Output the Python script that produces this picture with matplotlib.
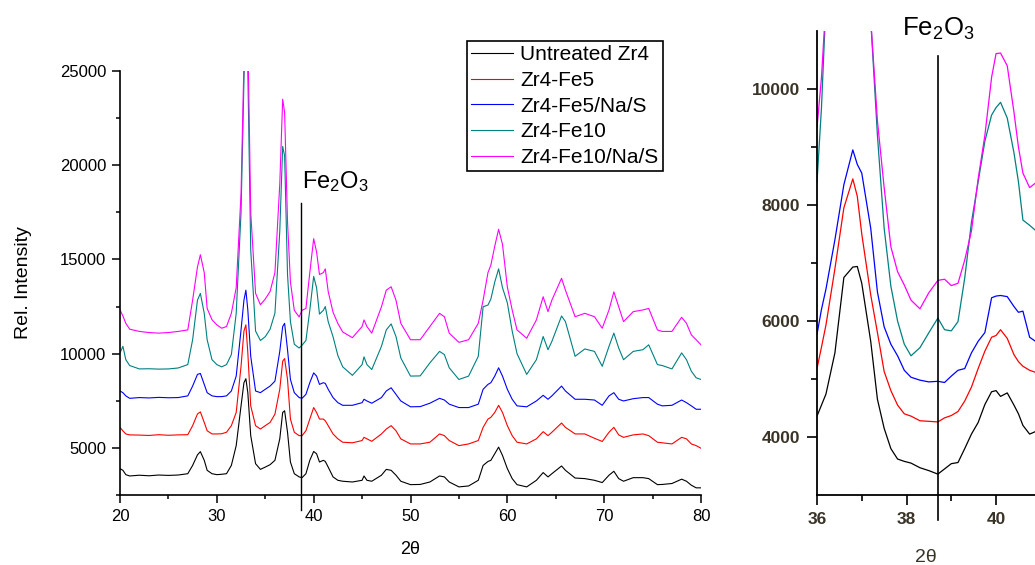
import numpy as np
import matplotlib
matplotlib.use('Agg')
import matplotlib.pyplot as plt
from matplotlib.ticker import MultipleLocator, FixedLocator

plt.rcParams['font.family'] = ['Liberation Sans', 'DejaVu Sans']
plt.rcParams['mathtext.default'] = 'regular'

# full scan, 2theta positions (deg)
two_theta = [20, 20.3, 20.6, 21, 22, 23, 24, 25, 26, 27,
             27.5, 28, 28.3, 28.7, 29, 29.5, 30, 30.5, 31, 31.5,
             32, 32.5, 32.8, 33.0, 33.2, 33.5, 34, 34.5, 35, 35.5,
             36, 36.5, 36.8, 37.0, 37.3, 37.6, 38, 38.5, 38.8, 39.2,
             39.6, 40.0, 40.3, 40.6, 41.0, 41.2, 41.5, 42, 42.5, 43,
             44, 45, 45.2, 45.5, 46, 47, 47.5, 48, 48.5, 49,
             50, 51, 52, 53, 53.5, 54, 55, 56, 57, 57.5,
             58, 58.3, 58.7, 59.1, 59.5, 60, 60.5, 61, 62, 63,
             63.7, 64.2, 64.6, 65.6, 66, 67, 68, 69, 69.8, 70.5,
             71, 71.5, 72, 73, 74, 74.6, 75.5, 76, 77, 78,
             78.5, 79, 79.5, 80]

untreated = [3900, 3810, 3580, 3510, 3550, 3520, 3560, 3540, 3560, 3630,
             4070, 4630, 4800, 4340, 3810, 3630, 3580, 3600, 3630, 4070,
             5120, 7230, 8460, 8670, 7930, 5650, 4160, 3860, 3980, 4110,
             4340, 5480, 6880, 6970, 5830, 4250, 3630, 3460, 3420, 3630,
             4340, 4810, 4690, 4250, 4340, 4280, 3980, 3460, 3280, 3230,
             3190, 3280, 3510, 3280, 3230, 3550, 3860, 3810, 3550, 3230,
             3050, 3060, 3190, 3510, 3460, 3190, 2930, 2980, 3280, 4070,
             4280, 4340, 4690, 5040, 4600, 3900, 3370, 3050, 2930, 3280,
             3690, 3460, 3630, 4040, 3810, 3400, 3370, 3280, 3160, 3550,
             3760, 3370, 3230, 3420, 3420, 3370, 3050, 3060, 3110, 3340,
             3230, 3020, 2880, 2880]

fe5 = [6090, 5900, 5740, 5690, 5680, 5660, 5700, 5670, 5690, 5700,
       6180, 6800, 6910, 6350, 5910, 5740, 5740, 5750, 5830, 6180,
       6880, 9330, 11200, 11530, 10040, 7230, 6180, 6000, 6180, 6350,
       6790, 8110, 9600, 9740, 8630, 6530, 5830, 5650, 5650, 5910,
       6530, 7140, 6880, 6530, 6530, 6440, 6180, 5740, 5480, 5300,
       5270, 5390, 5560, 5480, 5350, 5740, 6000, 6180, 5910, 5480,
       5210, 5210, 5300, 5740, 5650, 5390, 5120, 5210, 5390, 6090,
       6530, 6620, 6880, 7260, 6880, 6180, 5650, 5300, 5210, 5480,
       5860, 5650, 5830, 6320, 6090, 5740, 5740, 5510, 5340, 5830,
       6090, 5690, 5560, 5690, 5740, 5650, 5300, 5270, 5210, 5560,
       5480, 5210, 5120, 4980]

fe5_nas = [8020, 7930, 7760, 7630, 7670, 7650, 7680, 7660, 7670, 7760,
           8280, 8900, 8950, 8370, 7930, 7760, 7720, 7720, 7760, 8020,
           8810, 11260, 12840, 13370, 12320, 9860, 8020, 7930, 8110, 8280,
           8540, 10120, 11440, 11610, 10210, 8630, 7930, 7670, 7630, 7840,
           8460, 8980, 8810, 8370, 8460, 8420, 8110, 7670, 7400, 7260,
           7260, 7400, 7580, 7490, 7370, 7670, 8020, 8190, 7840, 7490,
           7180, 7190, 7370, 7630, 7540, 7320, 7140, 7140, 7320, 8110,
           8370, 8460, 8810, 9250, 8810, 8110, 7580, 7230, 7180, 7490,
           7790, 7580, 7760, 8280, 8020, 7580, 7580, 7540, 7260, 7760,
           7930, 7580, 7490, 7610, 7670, 7670, 7320, 7230, 7260, 7540,
           7400, 7230, 7050, 7050]

fe10 = [10040, 10390, 9680, 9370, 9190, 9200, 9180, 9190, 9240, 9420,
        10740, 12840, 13200, 12140, 10740, 9680, 9420, 9300, 9420, 9950,
        12140, 17500, 24500, 28000, 25000, 15500, 11200, 10700, 10900, 11300,
        12150, 16500, 21000, 20500, 14200, 11700, 10500, 10300, 10450, 10700,
        12300, 14100, 13500, 12100, 12300, 12500, 11700, 10900, 9900, 9300,
        8850, 9420, 9830, 9420, 9160, 10390, 11260, 11580, 10910, 9770,
        8810, 8820, 9510, 10120, 9950, 9250, 8630, 8810, 9860, 12490,
        12580, 12900, 13800, 14500, 13500, 12700, 11200, 10000, 8900, 9680,
        10910, 10210, 10650, 12000, 11700, 9860, 10250, 10120, 9330, 10390,
        11090, 10300, 9680, 10120, 10210, 10470, 9420, 9370, 9190, 10040,
        9680, 9070, 8720, 8630]

fe10_nas = [12320, 12000, 11610, 11300, 11180, 11120, 11090, 11120, 11180, 11260,
            12840, 14600, 15250, 14300, 12400, 11800, 11530, 11350, 11440, 12140,
            13500, 18500, 25500, 29000, 27000, 17500, 13200, 12600, 12900, 13300,
            14300, 19000, 23500, 22800, 17000, 13800, 12300, 11950, 12300, 12400,
            14300, 16100, 15400, 14200, 14300, 14500, 13300, 12200, 11600, 11150,
            10850, 11440, 11790, 11440, 11090, 12490, 13370, 13550, 12840, 11610,
            10740, 10740, 11440, 12140, 11960, 11090, 10600, 10740, 11610, 12840,
            14300, 14700, 15700, 16600, 15800, 13540, 12320, 11260, 10820, 11790,
            13020, 12230, 12840, 14000, 13370, 11960, 12140, 11960, 11350, 12320,
            13280, 12490, 11700, 12230, 12320, 12400, 11260, 11180, 11180, 11930,
            11610, 11000, 10740, 10470]

# close-up panel around the Fe2O3 position
zoom_theta = [36.0, 36.1, 36.2, 36.4, 36.6, 36.8, 36.9, 37.0, 37.2, 37.35,
              37.5, 37.65, 37.8, 37.95, 38.1, 38.3, 38.5, 38.7, 38.85, 39.0,
              39.15, 39.3, 39.45, 39.6, 39.75, 39.9, 40.0, 40.1, 40.25, 40.4,
              40.5, 40.6, 40.75, 40.9]

zoom_untreated = [4360, 4550, 4740, 5450, 6750, 6930, 6940, 6650, 5650, 4650,
                  4150, 3800, 3620, 3580, 3550, 3470, 3420, 3360, 3450, 3540,
                  3560, 3800, 4050, 4250, 4560, 4780, 4800, 4700, 4760, 4550,
                  4400, 4200, 4050, 4100]
zoom_fe5 = [5180, 5550, 5930, 6900, 7950, 8450, 8150, 7500, 6450, 5800,
            5130, 4800, 4550, 4400, 4360, 4280, 4270, 4260, 4330, 4370,
            4440, 4620, 4860, 5180, 5480, 5720, 5750, 5850, 5700, 5420,
            5300, 5220, 5150, 5110]
zoom_fe5_nas = [5770, 6200, 6550, 7400, 8350, 8950, 8700, 8550, 7600, 6500,
                5900, 5600, 5400, 5150, 5030, 4980, 4950, 4960, 4940, 5050,
                5150, 5180, 5450, 5650, 5800, 6400, 6430, 6440, 6420, 6250,
                6150, 6170, 5720, 5640]
zoom_fe10 = [8390, 9680, 11500, 14000, 15500, 16000, 15500, 14000, 11200, 9200,
             7600, 6600, 6000, 5600, 5400, 5540, 5800, 6050, 5850, 5830,
             5990, 6740, 7700, 8400, 9100, 9550, 9680, 9770, 9500, 8900,
             8400, 7740, 7650, 7550]
zoom_fe10_nas = [9330, 10200, 11500, 14000, 16000, 17000, 16500, 15000, 11200, 9450,
                 8300, 7280, 6850, 6620, 6360, 6210, 6490, 6700, 6720, 6610,
                 6650, 7050, 7550, 8450, 9200, 10200, 10610, 10620, 10400, 9600,
                 9000, 8550, 8300, 8390]

labels = ['Untreated Zr4', 'Zr4-Fe5', 'Zr4-Fe5/Na/S', 'Zr4-Fe10', 'Zr4-Fe10/Na/S']
colors = ['#000000', '#ff0000', '#0000ff', '#008080', '#ff00ff']
fe2o3_pos = 38.7

full = [untreated, fe5, fe5_nas, fe10, fe10_nas]
close = [zoom_untreated, zoom_fe5, zoom_fe5_nas, zoom_fe10, zoom_fe10_nas]

fig = plt.figure(figsize=(10.35, 5.65), dpi=100)

# main panel
ax = fig.add_axes([120/1035, 70/565, 581/1035, 424/565])
lines = []
for y, c, lab in zip(full, colors, labels):
    l, = ax.plot(two_theta, y, color=c, lw=0.8, label=lab)
    lines.append(l)
ax.set_xlim(20, 80)
ax.set_ylim(2500, 25000)
ax.xaxis.set_major_locator(MultipleLocator(10))
ax.xaxis.set_minor_locator(MultipleLocator(5))
ax.yaxis.set_major_locator(MultipleLocator(5000))
ax.yaxis.set_minor_locator(MultipleLocator(2500))
for s in ['top', 'right']:
    ax.spines[s].set_visible(False)
for s in ['left', 'bottom']:
    ax.spines[s].set_linewidth(1.2)
ax.tick_params(which='major', direction='out', length=6, width=1.1, labelsize=12, pad=4)
ax.tick_params(which='minor', direction='out', length=3, width=1.1)
ax.set_xlabel('2θ', fontsize=13, labelpad=12)
ax.set_ylabel('Rel. Intensity', fontsize=14, labelpad=20)
ax.axvline(fe2o3_pos, ymin=-0.035, ymax=0.689, color='black', lw=1, clip_on=False)
fig.text(302/1035, 1 - 188/565, r'Fe$_2$O$_3$', fontsize=17, ha='left', va='baseline')

leg = ax.legend(handles=lines, loc='upper left', bbox_to_anchor=(467/1035, 1 - 41/565),
                bbox_transform=fig.transFigure, borderaxespad=0, fontsize=15,
                handlelength=2.0, handletextpad=0.35, labelspacing=0.32, borderpad=0.2,
                fancybox=False, framealpha=1, edgecolor='black')
leg.get_frame().set_linewidth(1.2)

# close-up panel
ax2 = fig.add_axes([817/1035, 70/565, 218/1035, 464/565])
for y, c in zip(close, colors):
    ax2.plot(zoom_theta, y, color=c, lw=0.9)
ax2.set_xlim(36, 40.87)
ax2.set_ylim(3000, 11000)
ax2.xaxis.set_major_locator(MultipleLocator(2))
ax2.xaxis.set_minor_locator(MultipleLocator(1))
ax2.yaxis.set_major_locator(MultipleLocator(2000))
ax2.yaxis.set_minor_locator(FixedLocator([5000, 7000, 9000]))
for s in ['top', 'right']:
    ax2.spines[s].set_visible(False)
for s in ['left', 'bottom']:
    ax2.spines[s].set_linewidth(1.3)
ax2.tick_params(which='major', direction='out', length=7, width=1.2, labelsize=12.5,
                pad=5, labelcolor='#3a3328')
ax2.tick_params(which='minor', direction='out', length=4, width=1.2)
for t in ax2.get_xticklabels() + ax2.get_yticklabels():
    t.set_fontweight('bold')
ax2.set_xlabel('2θ', fontsize=14, labelpad=16, color='#3a3328')
ax2.axvline(fe2o3_pos, ymin=-0.054, ymax=0.946, color='black', lw=1.2, clip_on=False)
fig.text(902/1035, 1 - 36/565, r'Fe$_2$O$_3$', fontsize=18.5, ha='left', va='baseline')

fig.savefig('out.png', dpi=100)
